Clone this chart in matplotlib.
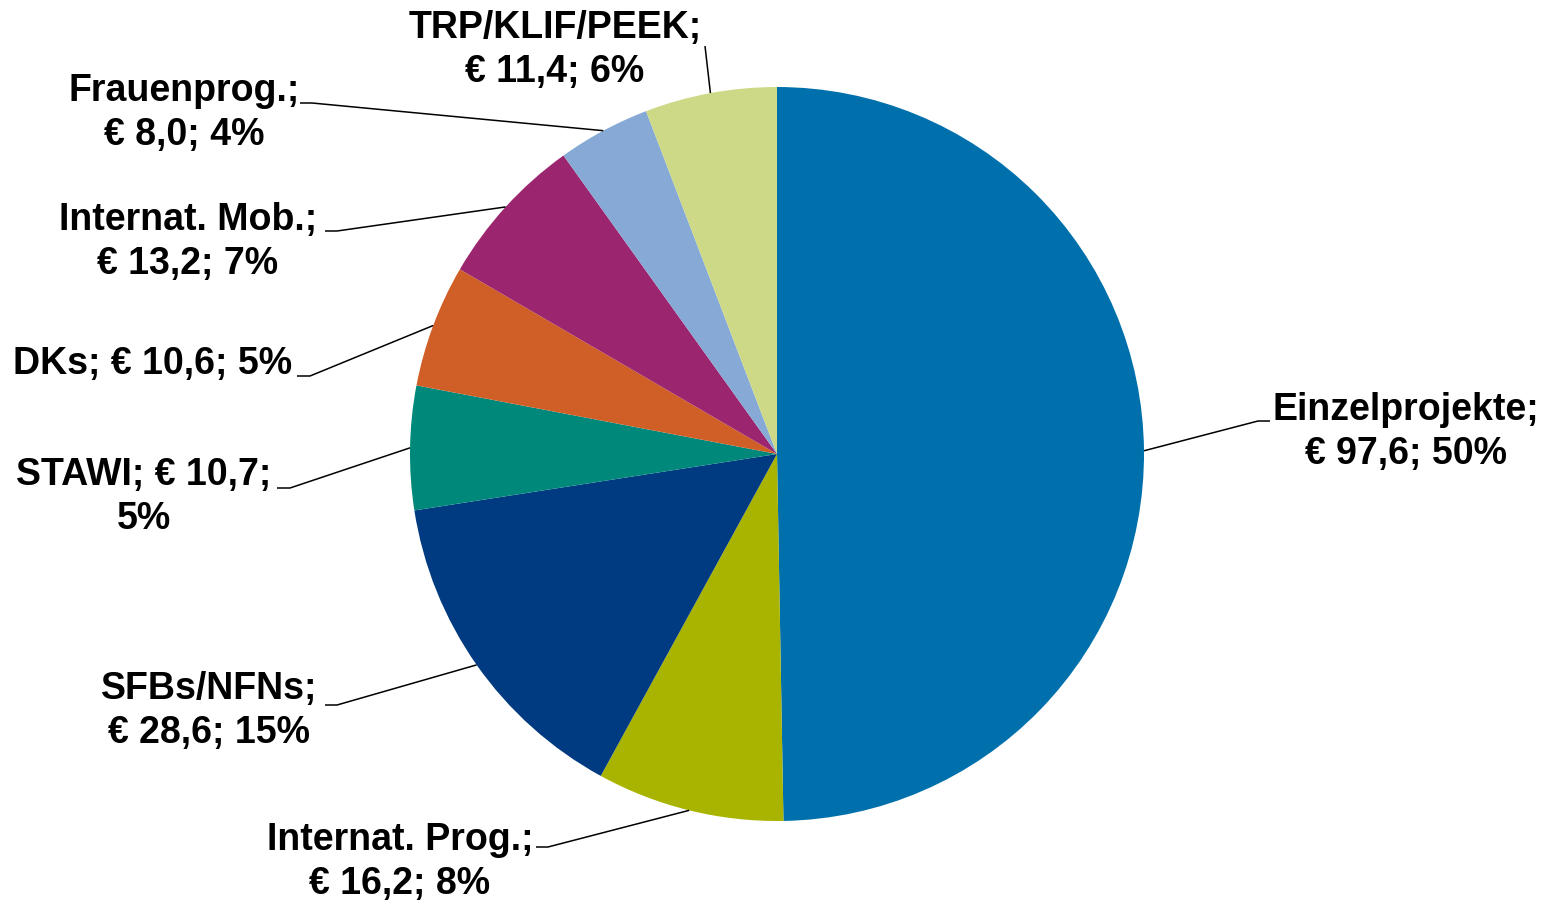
import matplotlib
matplotlib.use("Agg")
import matplotlib.pyplot as plt
import numpy as np

# Funding by programme, million euro (clockwise from 12 o'clock)
names = ["Einzelprojekte", "Internat. Prog.", "SFBs/NFNs", "STAWI", "DKs",
         "Internat. Mob.", "Frauenprog.", "TRP/KLIF/PEEK"]
values = [97.6, 16.2, 28.6, 10.7, 10.6, 13.2, 8.0, 11.4]
colors = ["#0070AD", "#A8B400", "#003A80", "#00897B", "#D05E27",
          "#9B266F", "#86AAD5", "#CDD987"]

# how each label is broken into lines
templates = ["{n};\n€ {v}; {p}%", "{n};\n€ {v}; {p}%", "{n};\n€ {v}; {p}%",
             "{n}; € {v};\n{p}%", "{n}; € {v}; {p}%", "{n};\n€ {v}; {p}%",
             "{n};\n€ {v}; {p}%", "{n};\n€ {v}; {p}%"]

W, H = 1558, 904

# label layout in pixels (top-down): text centre, leader elbow, leader end
text_pos = [(1406, 432), (400, 862), (209, 711), (144, 497), (153, 364),
            (188, 242), (184, 113), (555, 50)]
elbows = [(1258, 422), (548, 848), (337, 706), (290, 489), (310, 377),
          (337, 232), (312, 104), (705, 47)]
ends = [(1270, 422), (536, 848), (325, 706), (277, 489), (297, 377),
        (325, 232), (300, 104), (705, 47)]

fig = plt.figure(figsize=(W / 100, H / 100), dpi=100)
ax = fig.add_axes([0, 0, 1, 1])

cx, cy, r = 777, H - 455, 367
wedges, _ = ax.pie(values, colors=colors, startangle=90, counterclock=False,
                   center=(cx, cy), radius=r, wedgeprops=dict(linewidth=0))
ax.set_xlim(0, W)
ax.set_ylim(0, H)
ax.set_aspect("auto")
ax.axis("off")

total = sum(values)
for i, w in enumerate(wedges):
    mid = np.deg2rad((w.theta1 + w.theta2) / 2)
    ax_x = cx + r * np.cos(mid)
    ax_y = cy + r * np.sin(mid)
    ex, ey = elbows[i]
    nx, ny = ends[i]
    ax.plot([ax_x, ex, nx], [ax_y, H - ey, H - ny], color="black", lw=1.1,
            solid_capstyle="butt")
    val = f"{values[i]:.1f}".replace(".", ",")
    pct = round(values[i] / total * 100)
    label = templates[i].format(n=names[i], v=val, p=pct)
    tx, ty = text_pos[i]
    ax.text(tx, H - ty, label, ha="center", va="center", multialignment="center",
            fontsize=27, fontweight="bold", family="Liberation Sans",
            linespacing=1.3)

fig.savefig("out.png", dpi=100)
